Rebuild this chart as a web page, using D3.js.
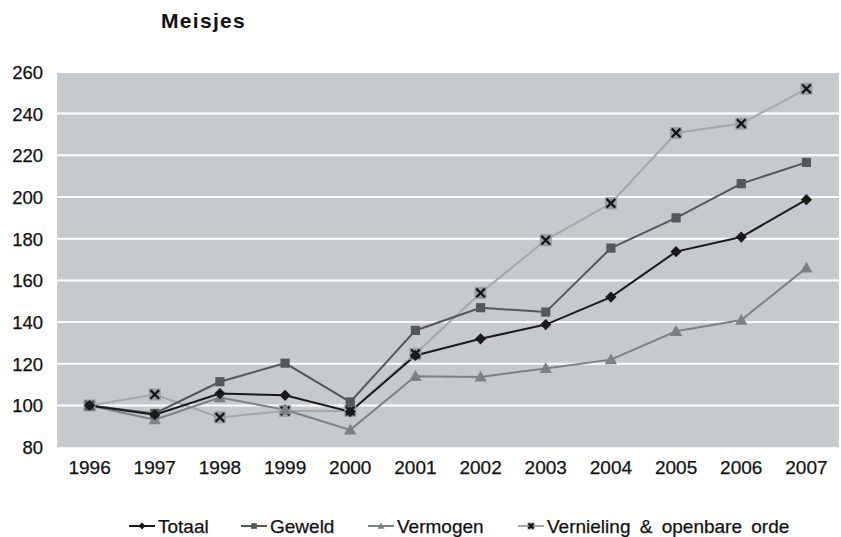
<!DOCTYPE html>
<html><head><meta charset="utf-8">
<script src="https://cdn.jsdelivr.net/npm/d3@7"></script>
<style>body{margin:0;background:#fff}svg{display:block}text{font-family:"Liberation Sans",Arial,sans-serif}</style>
</head><body><svg id="c" width="841" height="537"></svg>
<script>
const years = ["1996","1997","1998","1999","2000","2001","2002","2003","2004","2005","2006","2007"];
const totaal = [100, 95.6, 105.7, 104.9, 97, 124, 132, 138.8, 152, 173.8, 180.8, 198.7];
const geweld = [100, 96.2, 111.4, 120.3, 101.7, 136, 146.9, 144.8, 175.5, 190, 206.4, 216.6];
const vermogen = [100, 93.2, 103.8, 98, 88.3, 114, 113.7, 117.8, 122, 135.6, 141, 166];
const vernieling = [100, 105.3, 94.3, 97.4, 97.4, 124.8, 154, 179.3, 197, 230.7, 235.2, 251.9];
const yTicks = [80,100,120,140,160,180,200,220,240,260];
const seriesNames = ["Totaal","Geweld","Vermogen","Vernieling & openbare orde"];

const series = [
  {name: seriesNames[0], values: totaal, color: "#1a1a1a", marker: "diamond"},
  {name: seriesNames[1], values: geweld, color: "#54585b", marker: "square"},
  {name: seriesNames[2], values: vermogen, color: "#7d8184", marker: "triangle"},
  {name: seriesNames[3], values: vernieling, color: "#a4a8ab", marker: "cross"}
];

const svg = d3.select("#c");
const L = 57, R = 839, T = 71.9, B = 447.2;
const x = d3.scaleBand().domain(years).range([L, R]);
const y = d3.scaleLinear().domain([80, 260]).range([B, T]);

svg.append("rect").attr("x", L).attr("y", T).attr("width", R - L).attr("height", B - T).attr("fill", "#c6cacc");

svg.append("g").selectAll("line").data(yTicks.slice(1)).join("line")
  .attr("x1", L).attr("x2", R).attr("y1", d => y(d)).attr("y2", d => y(d))
  .attr("stroke", "#fff").attr("stroke-width", 2);

const txtStyle = sel => sel.attr("fill", "#111").attr("stroke", "#111").attr("stroke-width", 0.25)
  .style("font-family", '"Liberation Sans", Arial, sans-serif');

// y axis labels
const yAxis = d3.axisLeft(y).tickValues(yTicks).tickSize(0).tickPadding(14);
const gy = svg.append("g").attr("transform", `translate(${L},0)`).call(yAxis);
gy.select(".domain").remove();
gy.selectAll("text").attr("font-size", 18.5).attr("dy", "0.35em").call(txtStyle);

// x axis labels
const xAxis = d3.axisBottom(x).tickSize(0).tickPadding(13);
const gx = svg.append("g").attr("transform", `translate(0,${B})`).call(xAxis);
gx.select(".domain").remove();
gx.selectAll("text").attr("font-size", 19).call(txtStyle);

// title
svg.append("text").attr("x", 161).attr("y", 28).text("Meisjes")
  .attr("font-size", 21).attr("font-weight", "bold").attr("letter-spacing", 1.3).attr("fill", "#111");

function drawMarker(g, type, color, s) {
  if (type === "diamond") {
    g.append("path").attr("d", `M0,${-s}L${s},0L0,${s}L${-s},0Z`).attr("fill", color);
  } else if (type === "square") {
    g.append("rect").attr("x", -s*0.82).attr("y", -s*0.82).attr("width", s*1.64).attr("height", s*1.64).attr("fill", color);
  } else if (type === "triangle") {
    g.append("path").attr("d", `M0,${-s}L${s},${s*0.75}L${-s},${s*0.75}Z`).attr("fill", color);
  } else if (type === "cross") {
    g.append("rect").attr("x", -s).attr("y", -s).attr("width", s*2).attr("height", s*2).attr("fill", "#9a9ea1");
    const c = s*0.72;
    g.append("path").attr("d", `M${-c},${-c}L${c},${c}M${-c},${c}L${c},${-c}`).attr("stroke", "#151515").attr("stroke-width", 2.3);
  }
}

const line = d3.line().x((d, i) => x(years[i]) + x.bandwidth() / 2).y(d => y(d));
const order = [3, 2, 1, 0];
order.forEach(k => {
  const s = series[k];
  svg.append("path").datum(s.values).attr("d", line).attr("fill", "none")
    .attr("stroke", s.color).attr("stroke-width", 2);
});
order.forEach(k => {
  const s = series[k];
  s.values.forEach((v, i) => {
    const g = svg.append("g").attr("transform", `translate(${x(years[i]) + x.bandwidth() / 2},${y(v)})`);
    drawMarker(g, s.marker, s.color, s.marker === "cross" ? 6 : (s.marker === "triangle" ? 6.2 : 5.6));
  });
});

// legend
const legX = [129, 241, 368, 518];
const legY = 526;
series.forEach((s, k) => {
  const g = svg.append("g").attr("transform", `translate(${legX[k]},${legY})`);
  g.append("line").attr("x1", 0).attr("x2", 26).attr("y1", 0).attr("y2", 0).attr("stroke", s.color).attr("stroke-width", 2);
  const m = g.append("g").attr("transform", "translate(13,0)");
  drawMarker(m, s.marker, s.color, 3.5);
  g.append("text").attr("x", 29).attr("y", 6.8).text(s.name).attr("font-size", 19)
    .attr("word-spacing", 4).call(txtStyle);
});
</script></body></html>
